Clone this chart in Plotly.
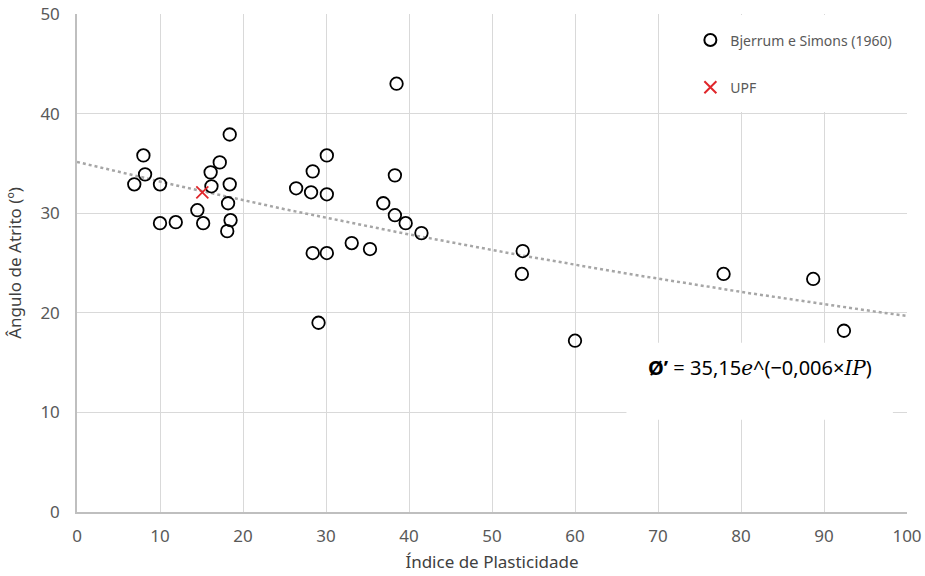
import plotly.graph_objects as go
import numpy as np

# Bjerrum e Simons (1960) data: plasticity index vs friction angle
bs_ip = [6.9, 8.0, 8.2, 10.0, 10.0, 11.9, 14.5, 15.2, 16.1, 16.2, 17.2, 18.4, 18.4, 18.2, 18.5, 18.1,
         26.4, 28.2, 28.4, 28.4, 29.1, 30.1, 30.1, 30.1, 33.1, 35.3, 36.9, 38.3, 38.3, 38.5, 39.6, 41.5,
         53.7, 53.6, 60.0, 77.9, 88.7, 92.4]
bs_phi = [32.9, 35.8, 33.9, 32.9, 29.0, 29.1, 30.3, 29.0, 34.1, 32.7, 35.1, 37.9, 32.9, 31.0, 29.3, 28.2,
          32.5, 32.1, 34.2, 26.0, 19.0, 35.8, 31.9, 26.0, 27.0, 26.4, 31.0, 33.8, 29.8, 43.0, 29.0, 28.0,
          26.2, 23.9, 17.2, 23.9, 23.4, 18.2]

# UPF point
upf_ip = [15.1]
upf_phi = [32.1]

# Exponential trendline parameters
trend_a = 35.15
trend_b = 0.0058
trend_x = np.linspace(0, 100, 101)
trend_y = trend_a * np.exp(-trend_b * trend_x)

x_ticks = [0, 10, 20, 30, 40, 50, 60, 70, 80, 90, 100]
y_ticks = [0, 10, 20, 30, 40, 50]

FONT = "Noto Sans"
TXT = "#595959"

fig = go.Figure()

fig.add_trace(go.Scatter(
    x=trend_x, y=trend_y, mode="lines",
    line=dict(color="#a6a6a6", width=2.5, dash="dot"),
    showlegend=False, hoverinfo="skip"))

fig.add_trace(go.Scatter(
    x=bs_ip, y=bs_phi, mode="markers", name="Bjerrum e Simons (1960)",
    legendgroup="a",
    marker=dict(symbol="circle-open", size=12.5, color="black", line=dict(width=1.8, color="black"))))

fig.add_trace(go.Scatter(
    x=upf_ip, y=upf_phi, mode="markers", name="UPF",
    legendgroup="b",
    marker=dict(symbol="x-thin-open", size=12, color="#e0262b", line=dict(width=1.8, color="#e0262b"))))

# white boxes behind legend and equation (hide gridlines)
fig.add_shape(type="rect", xref="x", yref="y", x0=70.25, x1=99.8, y0=40.15, y1=49.9,
              fillcolor="white", line=dict(width=0), layer="between")
fig.add_shape(type="rect", xref="x", yref="y", x0=66.2, x1=98.3, y0=9.25, y1=17.0,
              fillcolor="white", line=dict(width=0), layer="between")

fig.add_annotation(
    x=82.3, y=14.5, xref="x", yref="y", showarrow=False,
    text="<b>Ø’</b> = 35,15<span style=\"font-family:'DejaVu Serif';font-style:italic\">e</span>^(−0,006×<span style=\"font-family:'DejaVu Serif';font-style:italic\">IP</span>)",
    font=dict(family=FONT, size=20, color="black"))

fig.update_layout(
    width=925, height=576,
    margin=dict(l=77, r=18, t=14, b=64, autoexpand=False),
    paper_bgcolor="white", plot_bgcolor="white",
    font=dict(family=FONT, color=TXT),
    showlegend=True,
    legend=dict(x=0.739, y=0.979, xanchor="left", yanchor="top",
                bgcolor="rgba(0,0,0,0)", font=dict(size=14, color=TXT),
                tracegroupgap=26, itemsizing="constant"),
    xaxis=dict(range=[0, 100], tickvals=x_ticks, ticktext=[str(v) for v in x_ticks],
               automargin=False, ticklabeloverflow="allow",
               showgrid=True, gridcolor="#d9d9d9", gridwidth=1.3,
               showline=True, linecolor="#bfbfbf", linewidth=1.5,
               zeroline=False, ticks="", ticklabelstandoff=8,
               tickfont=dict(size=17, color=TXT),
               title=dict(text="Índice de Plasticidade", font=dict(size=17, color="#404040"), standoff=10)),
    yaxis=dict(range=[0, 50], tickvals=y_ticks, ticktext=[str(v) for v in y_ticks],
               automargin=False, ticklabeloverflow="allow",
               showgrid=True, gridcolor="#d9d9d9", gridwidth=1.3,
               showline=True, linecolor="#bfbfbf", linewidth=1.5,
               zeroline=False, ticks="", ticklabelstandoff=12,
               tickfont=dict(size=17, color=TXT),
               title=dict(text="Ângulo de Atrito (º)", font=dict(size=17, color="#404040"), standoff=14)),
)

# remove the default 8px page margin so the figure fills the window exactly
fig.write_html("out.html", config={"displayModeBar": False},
               post_script="document.body.style.margin='0';")
